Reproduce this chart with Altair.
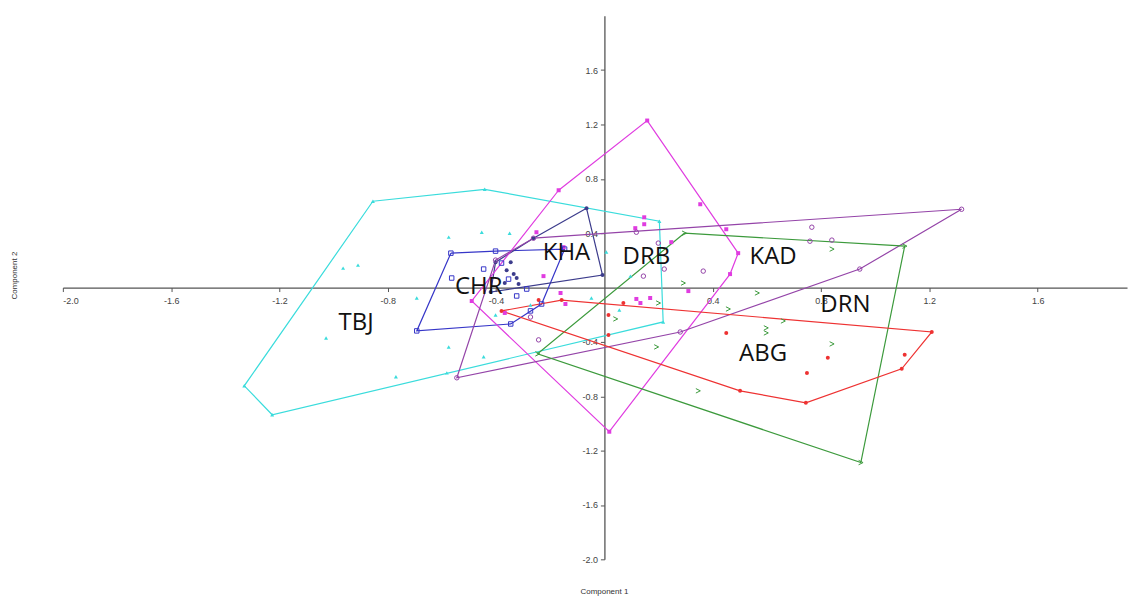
import altair as alt
import pandas as pd

# ---------------- data ----------------
GROUPS = ["TBJ", "CHR", "KHA", "DRB", "KAD", "DRN", "ABG"]
COLORS = ["#3adcdc", "#3636c8", "#3c3c8c", "#e03ce0", "#9444a8", "#3c9a3c", "#ee3232"]
SHAPES = ["triangle-up", "square", "circle", "square", "circle", "M-1,-1L1,0L-1,1", "circle"]
FILLED = ["TBJ", "KHA", "DRB", "ABG"]

# convex hull vertices
TBJ_HX = [-0.855, -0.442, 0.203, 0.217, -1.227, -1.330]
TBJ_HY = [0.635, 0.723, 0.488, -0.253, -0.936, -0.723]
CHR_HX = [-0.567, -0.402, -0.147, -0.232, -0.346, -0.693]
CHR_HY = [0.253, 0.268, 0.283, -0.121, -0.268, -0.319]
KHA_HX = [-0.066, -0.007, -0.420, -0.402, -0.262]
KHA_HY = [0.583, 0.092, -0.033, 0.187, 0.363]
DRB_HX = [-0.169, 0.158, 0.494, 0.464, 0.018, -0.490]
DRB_HY = [0.716, 1.229, 0.253, 0.099, -1.061, -0.099]
KAD_HX = [-0.262, 1.319, 0.943, 0.280, -0.545, -0.402]
KAD_HY = [0.363, 0.576, 0.136, -0.327, -0.664, 0.202]
DRN_HX = [0.295, 1.109, 0.947, -0.247]
DRN_HY = [0.400, 0.305, -1.288, -0.488]
ABG_HX = [-0.380, -0.158, 1.209, 1.098, 0.744, 0.501]
ABG_HY = [-0.172, -0.092, -0.327, -0.598, -0.848, -0.760]

# interior points
TBJ_PX = [-0.965, -0.910, -1.028, -0.693, -0.575, -0.575, -0.770, -0.582, -0.453, -0.350,
          -0.402, 0.007, 0.096, 0.055, -0.048, -0.273, -0.446]
TBJ_PY = [0.143, 0.165, -0.371, -0.077, 0.371, -0.437, -0.657, -0.628, 0.407, 0.400,
          -0.202, 0.261, 0.084, -0.165, -0.077, -0.128, -0.510]
CHR_PX = [-0.446, -0.564, -0.380, -0.324, -0.287, -0.273, -0.354]
CHR_PY = [0.136, 0.070, 0.180, -0.062, -0.011, -0.172, 0.062]
KHA_PX = [-0.361, -0.335, -0.324, -0.368, -0.346, -0.317]
KHA_PY = [0.128, 0.099, 0.070, 0.033, 0.187, 0.026]
DRB_PX = [-0.251, -0.225, -0.162, -0.144, -0.368, -0.151, 0.147, 0.147, 0.114, 0.354,
          0.450, 0.247, 0.310, 0.118, 0.169, 0.133]
DRB_PY = [0.407, 0.084, -0.040, -0.121, -0.187, 0.297, 0.517, 0.466, 0.437, 0.613,
          0.429, 0.334, -0.026, -0.084, -0.077, -0.114]
KAD_PX = [0.766, 0.840, 0.759, 0.365, 0.221, 0.144, 0.118, 0.199, -0.243, -0.273]
KAD_PY = [0.444, 0.349, 0.341, 0.121, 0.136, 0.084, 0.407, 0.327, -0.385, -0.217]
DRN_PX = [0.291, 0.199, 0.041, 0.564, 0.457, 0.660, 0.597, 0.597, 0.840, 0.840, 0.192, 0.346]
DRN_PY = [0.033, -0.114, -0.231, -0.040, -0.158, -0.246, -0.297, -0.334, 0.283, -0.415, -0.437, -0.760]
ABG_PX = [0.015, 0.015, 0.450, 0.825, 0.748, 1.109, 0.070, -0.243]
ABG_PY = [-0.202, -0.349, -0.334, -0.517, -0.628, -0.495, -0.114, -0.092]

# group labels
LABEL_X = [-0.917, -0.464, -0.140, 0.155, 0.623, 0.890, 0.586]
LABEL_Y = [-0.261, 0.004, 0.253, 0.224, 0.224, -0.128, -0.488]

XTICKS = [-2.0, -1.6, -1.2, -0.8, -0.4, 0.4, 0.8, 1.2, 1.6]
YTICKS = [-2.0, -1.6, -1.2, -0.8, -0.4, 0.4, 0.8, 1.2, 1.6]

HULLS = {
    "TBJ": (TBJ_HX, TBJ_HY), "CHR": (CHR_HX, CHR_HY), "KHA": (KHA_HX, KHA_HY),
    "DRB": (DRB_HX, DRB_HY), "KAD": (KAD_HX, KAD_HY), "DRN": (DRN_HX, DRN_HY),
    "ABG": (ABG_HX, ABG_HY),
}
POINTS = {
    "TBJ": (TBJ_PX, TBJ_PY), "CHR": (CHR_PX, CHR_PY), "KHA": (KHA_PX, KHA_PY),
    "DRB": (DRB_PX, DRB_PY), "KAD": (KAD_PX, KAD_PY), "DRN": (DRN_PX, DRN_PY),
    "ABG": (ABG_PX, ABG_PY),
}

# ---------------- tables ----------------
hull_rows = []
pt_rows = []
for g in GROUPS:
    hx, hy = HULLS[g]
    n = len(hx)
    for i in range(n + 1):
        hull_rows.append({"group": g, "x": hx[i % n], "y": hy[i % n], "order": i})
    for i in range(n):
        pt_rows.append({"group": g, "x": hx[i], "y": hy[i]})
    px, py = POINTS[g]
    for a, b in zip(px, py):
        pt_rows.append({"group": g, "x": a, "y": b})
hull_df = pd.DataFrame(hull_rows)
pt_df = pd.DataFrame(pt_rows)
lab_df = pd.DataFrame({"group": GROUPS, "x": LABEL_X, "y": LABEL_Y})

# ---------------- layout ----------------
W, H = 1067, 545
XDOM = [-2.0, 1.93]
YDOM = [-2.0, 2.0]
x_zero_px = W * (0 - XDOM[0]) / (XDOM[1] - XDOM[0])
y_zero_px = H * (YDOM[1] - 0) / (YDOM[1] - YDOM[0])

lab_expr = "(datum.value < 0 ? '-' : '') + format(abs(datum.value), '.1f')"
axis_common = dict(grid=False, title=None, domainColor="#555555", domainWidth=1.3,
                   tickColor="#555555", tickSize=4, labelColor="#444444",
                   labelFont="Liberation Sans", labelFontSize=9, labelExpr=lab_expr)

X = alt.X("x:Q", scale=alt.Scale(domain=XDOM, nice=False, zero=False),
          axis=alt.Axis(values=XTICKS, offset=-(H - y_zero_px), labelPadding=5, **axis_common))
Y = alt.Y("y:Q", scale=alt.Scale(domain=YDOM, nice=False, zero=False),
          axis=alt.Axis(values=YTICKS, offset=-x_zero_px, labelPadding=3, **axis_common))

color_scale = alt.Scale(domain=GROUPS, range=COLORS)
shape_scale = alt.Scale(domain=GROUPS, range=SHAPES)

hulls = alt.Chart(hull_df).mark_line(strokeWidth=1.2).encode(
    x=X, y=Y,
    color=alt.Color("group:N", scale=color_scale, legend=None),
    detail="group:N",
    order="order:Q",
)

filled_pts = alt.Chart(pt_df).transform_filter(
    alt.FieldOneOfPredicate(field="group", oneOf=FILLED)
).mark_point(filled=True, size=16, opacity=1).encode(
    x=X, y=Y,
    color=alt.Color("group:N", scale=color_scale, legend=None),
    shape=alt.Shape("group:N", scale=shape_scale, legend=None),
)

open_pts = alt.Chart(pt_df).transform_filter(
    {"not": alt.FieldOneOfPredicate(field="group", oneOf=FILLED).to_dict()}
).mark_point(filled=False, size=20, strokeWidth=1, opacity=1).encode(
    x=X, y=Y,
    color=alt.Color("group:N", scale=color_scale, legend=None),
    shape=alt.Shape("group:N", scale=shape_scale, legend=None),
)

labels = alt.Chart(lab_df).mark_text(
    font="Open Sans", fontSize=24, color="#111111", align="center", baseline="middle"
).encode(x=X, y=Y, text="group:N")

title_x = alt.Chart(lab_df).transform_filter("datum.group == 'TBJ'").mark_text(
    text="Component 1", font="Liberation Sans", fontSize=8, color="#333333"
).encode(x=alt.value(x_zero_px), y=alt.value(H + 33))

title_y = alt.Chart(lab_df).transform_filter("datum.group == 'TBJ'").mark_text(
    text="Component 2", font="Liberation Sans", fontSize=8, color="#333333", angle=270
).encode(x=alt.value(-48), y=alt.value(y_zero_px - 12))

chart = alt.layer(hulls, filled_pts, open_pts, labels, title_x, title_y).properties(
    width=W, height=H,
    background="white",
    autosize=alt.AutoSizeParams(type="none"),
    padding={"left": 55, "top": 7, "right": 5, "bottom": 40},
).configure_view(strokeWidth=0, stroke="transparent")

chart.save("out.html", embed_options={"renderer": "svg", "actions": False})
